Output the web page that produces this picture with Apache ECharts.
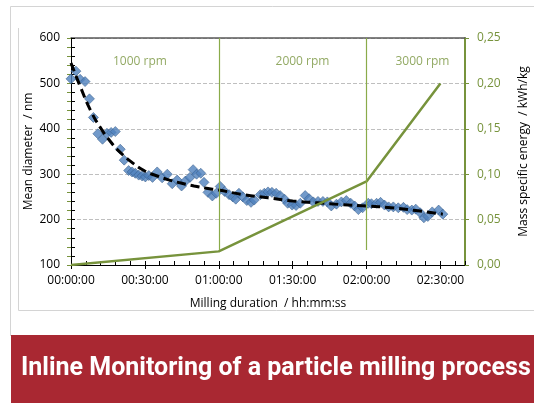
<!DOCTYPE html>
<html><head><meta charset="utf-8">
<script src="https://cdn.jsdelivr.net/npm/echarts@6/dist/echarts.min.js"></script>
<style>html,body{margin:0;padding:0;background:#fff}#c{width:534px;height:403px}</style>
</head><body><div id="c"></div>
<script>
const xTickLabels = ['00:00:00','00:30:00','01:00:00','01:30:00','02:00:00','02:30:00'];
const rightTickLabels = ['0,00','0,05','0,10','0,15','0,20','0,25'];
const diameterMinutes = [0,2.0,3.7,5.7,7.5,9.1,10.9,12.8,14.6,16.3,18.0,20.0,21.6,23.4,24.8,26.1,27.5,28.9,30.2,31.6,33.1,35.0,37.0,39.1,41.1,43.1,44.9,46.5,48.3,49.6,51.0,52.7,54.0,55.6,57.4,59.0,60.6,62.4,64.2,65.7,66.9,68.2,69.8,71.4,73.1,74.4,76.9,78.5,80.0,81.6,83.3,84.9,86.7,88.0,89.8,91.4,93.1,95.1,96.7,98.4,100.3,102.3,104.1,105.7,107.8,109.8,111.8,113.6,115.2,116.7,118.4,120.7,122.0,124.1,125.7,127.3,129.0,130.9,132.9,135.0,136.5,138.4,140.0,141.8,143.3,144.9,146.7,149.3,151.0];
const diameterValues = [510,527,509,504,466,425,389,377,390,392,394,355,331,308,305,302,298,296,294,297,293,305,292,300,279,287,274,285,293,310,300,302,282,260,252,258,273,262,255,250,245,258,250,242,238,243,255,258,261,260,258,253,245,236,232,231,236,253,246,239,240,240,239,230,234,239,242,236,230,222,226,236,235,236,238,232,228,228,226,227,222,221,223,215,204,207,217,221,212];
const trendMinutes = [0,4,8,12,16,20,25,30,35,40,45,50,55,60,70,80,90,100,110,120,130,140,151];
const trendValues = [545,490,440,402,372,348,325,307,296,287,280,274,269,265,255,248,241,237,233,230,226,220,212];
const energyMinutes = [0,60,120,150];
const energyValues = [0,0.015,0.092,0.20];
const speedChangeMinutes = [60,120];
const rpmLabels = ['1000 rpm','2000 rpm','3000 rpm'];
const rpmLabelMinutes = [28,94,142.7];
const titleText = 'Inline Monitoring of a particle milling process';

const FONT = 'Open Sans';
const GREEN = '#77933c';
const chart = echarts.init(document.getElementById('c'), null, {renderer:'canvas'});
const zip = (a,b) => a.map((v,i)=>[v,b[i]]);
const hideAll = {axisLine:{show:false},axisLabel:{show:false},splitLine:{show:false}};

chart.setOption({
  animation:false,
  grid:{left:71,right:69,top:38,bottom:138,containLabel:false,outerBoundsMode:'none'},
  xAxis:[
    {type:'value',min:0,max:160,interval:30,position:'bottom',
     axisLine:{onZero:false,lineStyle:{color:'#000',width:1}},
     axisTick:{show:true,inside:false,length:4,lineStyle:{color:'#000'}},
     axisLabel:{formatter:v=>xTickLabels[Math.round(v/30)]||'',showMaxLabel:false,color:'#000',fontSize:12,fontFamily:FONT,margin:10},
     splitLine:{show:false},
     name:'Milling duration  / hh:mm:ss',nameLocation:'middle',nameGap:33,
     nameTextStyle:{color:'#000',fontSize:12,fontFamily:FONT}},
    Object.assign({type:'value',min:0,max:160,interval:30,position:'bottom',
     axisTick:{show:true,inside:true,length:4,lineStyle:{color:'#000'}},
     minorTick:{show:true,splitNumber:5,length:4,lineStyle:{color:'#000'}}},hideAll,{axisLine:{show:false,onZero:false}}),
    Object.assign({type:'value',min:0,max:160,position:'top',axisTick:{show:false}},hideAll,
     {axisLine:{show:true,onZero:false,lineStyle:{color:'#595959',width:1.5}}})
  ],
  yAxis:[
    {type:'value',min:100,max:600,interval:100,position:'left',
     axisLine:{show:true,onZero:false,lineStyle:{color:'#000',width:1}},
     axisTick:{show:true,inside:false,length:4,lineStyle:{color:'#000'}},
     axisLabel:{color:'#000',fontSize:12,fontFamily:FONT,margin:11},
     splitLine:{show:true,lineStyle:{color:'#bfbfbf',type:[4,2],width:1}},
     name:'Mean diameter  / nm',nameLocation:'middle',nameGap:36,nameMoveOverlap:false,
     nameTextStyle:{color:'#000',fontSize:12,fontFamily:FONT}},
    Object.assign({type:'value',min:100,max:600,interval:100,position:'left',
     axisTick:{show:true,inside:true,length:4,lineStyle:{color:'#000'}},
     minorTick:{show:true,splitNumber:5,length:4,lineStyle:{color:'#000'}}},hideAll),
    {type:'value',min:0,max:0.25,interval:0.05,position:'right',
     axisLine:{show:true,onZero:false,lineStyle:{color:GREEN,width:2}},
     axisTick:{show:true,inside:false,length:4,lineStyle:{color:GREEN}},
     axisLabel:{formatter:v=>rightTickLabels[Math.round(v/0.05)]||'',color:GREEN,fontSize:12,fontFamily:FONT,margin:12},
     splitLine:{show:false},
     name:'Mass specific energy  / kWh/kg',nameLocation:'middle',nameGap:53,nameRotate:90,
     nameTextStyle:{color:'#000',fontSize:12,fontFamily:FONT}},
    Object.assign({type:'value',min:0,max:0.25,interval:0.05,position:'right',
     axisTick:{show:true,inside:true,length:4,lineStyle:{color:GREEN}},
     minorTick:{show:true,splitNumber:5,length:4,lineStyle:{color:GREEN}}},hideAll)
  ],
  series:[
    {type:'line',xAxisIndex:0,yAxisIndex:0,data:[],silent:true,
     markLine:{symbol:'none',silent:true,label:{show:false},
       lineStyle:{color:'#8aab4a',width:1.2,type:'solid'},
       data:speedChangeMinutes.map(m=>[{coord:[m,600]},{coord:[m,133]}])}},
    {type:'scatter',xAxisIndex:0,yAxisIndex:0,data:zip(diameterMinutes,diameterValues),
     symbol:'diamond',symbolSize:10,
     itemStyle:{color:'#4f81bd',borderColor:'#385d8a',borderWidth:0.7}},
    {type:'line',xAxisIndex:0,yAxisIndex:0,data:zip(trendMinutes,trendValues),smooth:true,
     symbol:'none',lineStyle:{color:'#000',width:3,type:[9,5]}},
    {type:'line',xAxisIndex:0,yAxisIndex:2,data:zip(energyMinutes,energyValues),
     symbol:'none',lineStyle:{color:GREEN,width:2.5}},
    {type:'scatter',xAxisIndex:0,yAxisIndex:0,symbolSize:0,silent:true,
     data:rpmLabelMinutes.map((m,i)=>({value:[m,548],name:rpmLabels[i]})),
     label:{show:true,position:'inside',formatter:'{b}',color:GREEN,fontSize:12,fontFamily:FONT}}
  ],
  graphic:[
    {type:'line',shape:{x1:10.5,y1:6.5,x2:534,y2:6.5},style:{stroke:'#d4d4d4',lineWidth:1},silent:true},
    {type:'line',shape:{x1:10.5,y1:6.5,x2:10.5,y2:336},style:{stroke:'#d4d4d4',lineWidth:1},silent:true},
    {type:'line',shape:{x1:18.5,y1:28,x2:18.5,y2:310.5},style:{stroke:'#d4d4d4',lineWidth:1},silent:true},
    {type:'line',shape:{x1:18.5,y1:310.5,x2:534,y2:310.5},style:{stroke:'#d4d4d4',lineWidth:1},silent:true},
    {type:'rect',shape:{x:11,y:335,width:523,height:68},style:{fill:'#a92832'},silent:true},
    {type:'text',x:21,y:369,style:{text:titleText,fill:'#fff',font:'bold 25px Roboto',textVerticalAlign:'middle'},silent:true}
  ]
});
</script></body></html>
